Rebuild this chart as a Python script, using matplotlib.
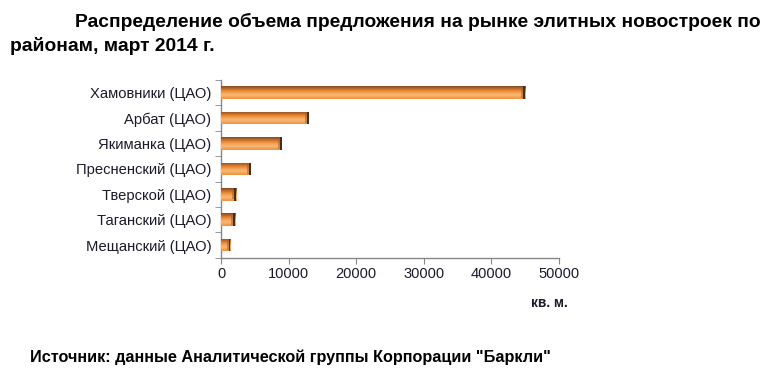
import matplotlib
matplotlib.use("Agg")
import matplotlib.pyplot as plt
import numpy as np
from matplotlib.colors import LinearSegmentedColormap

plt.rcParams['font.family'] = ['Liberation Sans', 'DejaVu Sans']

categories = ["Хамовники (ЦАО)", "Арбат (ЦАО)", "Якиманка (ЦАО)", "Пресненский (ЦАО)",
              "Тверской (ЦАО)", "Таганский (ЦАО)", "Мещанский (ЦАО)"]
values = [45000, 13000, 9000, 4400, 2250, 2100, 1400]
xticks = [0, 10000, 20000, 30000, 40000, 50000]

title1 = "Распределение объема предложения на рынке элитных новостроек по"
title2 = "районам, март 2014 г."
source = 'Источник: данные Аналитической группы Корпорации "Баркли"'
unit = "кв. м."

fig = plt.figure(figsize=(7.75, 3.79), dpi=100)
ax = fig.add_axes([221/775, 1-257.7/379, (559-221)/775, (257.7-80)/379])

n = len(categories)
ypos = np.arange(n)[::-1]
bh = 0.5

# vertical gradient (top -> bottom)
vcmap = LinearSegmentedColormap.from_list("bevel", [
    (0.0, "#EC9240"), (0.12, "#F2A050"), (0.3, "#F8BA78"), (0.45, "#F4A85C"),
    (0.62, "#EC8C38"), (0.8, "#C06C2C"), (1.0, "#86491C")])
grad = np.linspace(0, 1, 64).reshape(-1, 1)

bars = ax.barh(ypos, values, height=bh, color="#E58A3A", edgecolor="none", zorder=2)
for b, v, y in zip(bars, values, ypos):
    im = ax.imshow(grad, cmap=vcmap, aspect="auto",
                   extent=[0, v, y + bh/2, y - bh/2], zorder=3, interpolation="bilinear")
    im.set_clip_path(b)
    # dark right end cap
    ax.barh(y, 280, left=v - 280, height=bh, color="#4E2C10", edgecolor="none", zorder=4)
    ax.barh(y, 300, left=v - 580, height=bh*0.8, color="#A86026", edgecolor="none", zorder=4, alpha=0.55)

ax.set_xlim(0, 50000)
ax.set_ylim(-0.5, n - 0.5)
ax.set_xticks(xticks)
ax.set_xticklabels([str(t) for t in xticks], fontsize=10.5, color="#1a1a2a")
ax.set_yticks(ypos)
ax.set_yticklabels(categories, fontsize=10.6, color="#1a1a2a")
ax.tick_params(axis="y", length=0, pad=7)
ax.set_yticks(np.arange(-0.5, n, 1.0), minor=True)
ax.tick_params(axis="y", which="minor", length=4, color="#888888", direction="out")
ax.tick_params(axis="x", length=4, color="#888888", direction="out", pad=3)
for s in ["top", "right"]:
    ax.spines[s].set_visible(False)
for s in ["left", "bottom"]:
    ax.spines[s].set_color("#888888")
    ax.spines[s].set_linewidth(1.0)

fig.text(75/775, 1-22/379, title1, fontsize=13.9, fontweight="bold", va="center", ha="left", color="#000000")
fig.text(10/775, 1-46/379, title2, fontsize=13.9, fontweight="bold", va="center", ha="left", color="#000000")
fig.text(549/775, 1-303/379, unit, fontsize=9.8, fontweight="bold", va="center", ha="center", color="#1a1a2a")
fig.text(30/775, 1-357/379, source, fontsize=11.7, fontweight="bold", va="center", ha="left", color="#000000")

fig.savefig("out.png", dpi=100, facecolor="white")
